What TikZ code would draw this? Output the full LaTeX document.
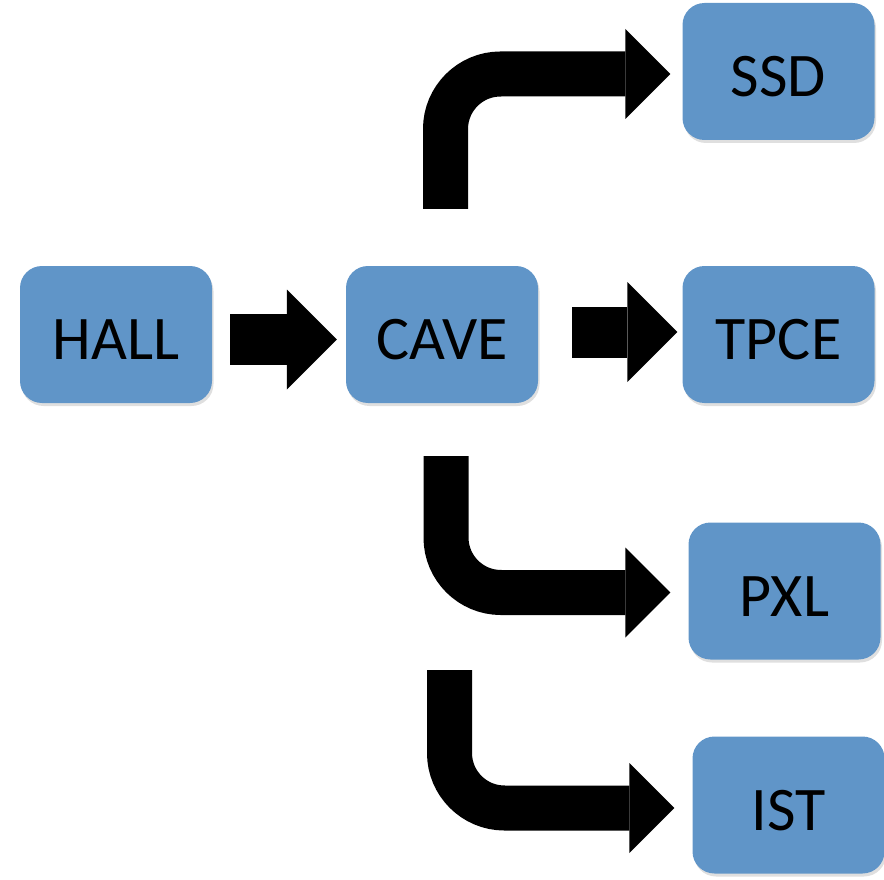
\documentclass[tikz,border=0pt]{standalone}
\usepackage{fontspec}
\setmainfont{Carlito}
\usetikzlibrary{arrows.meta,shadows}
\definecolor{cajaazul}{RGB}{96,149,200}
\tikzset{
  caja/.style={rectangle, rounded corners=22pt, fill=cajaazul,
    minimum width=192pt, minimum height=137pt, inner sep=0pt,
    text height=50pt, text depth=0pt,
    font=\fontsize{62}{62}\selectfont,
    drop shadow={shadow xshift=1.5pt, shadow yshift=-3pt, opacity=0.25}},
  flecharecta/.style={line width=51pt,
    -{Triangle[length=50pt,width=100pt,line width=0pt]}},
  flechacurva/.style={line width=45pt, rounded corners=55pt,
    -{Triangle[length=45pt,width=90pt,line width=0pt]}}
}
\begin{document}
\begin{tikzpicture}[x=1pt,y=-1pt]
  \useasboundingbox (0,0) rectangle (884,880);

  % Dibuja las cajas
  \node[caja] (hall) at (116,334.5) {HALL};
  \node[caja] (cave) at (442,334.5) {CAVE};
  \node[caja] (tpce) at (778.5,334.5) {TPCE};
  \node[caja] (ssd) at (778.5,71.5) {SSD};
  \node[caja] (pxl) at (784.5,591) {PXL};
  \node[caja] (ist) at (788.5,805) {IST};

  % Inicio de la flecha suelta
  \coordinate (inicioist) at (449.5,670);

  % Flechas rectas
  \draw[flecharecta] ([xshift=18pt,yshift=-5pt]hall.east) -- ([xshift=-9pt,yshift=-5pt]cave.west);
  \draw[flecharecta] ([xshift=34pt,yshift=2.5pt]cave.east) -- ([xshift=-5pt,yshift=2.5pt]tpce.west);

  % Flechas curvas
  \draw[flechacurva] ([xshift=3.5pt,yshift=57pt]cave.north) |- ([xshift=-12pt,yshift=-2.5pt]ssd.west);
  \draw[flechacurva] ([xshift=4pt,yshift=-53pt]cave.south) |- ([xshift=-18pt,yshift=-1.5pt]pxl.west);
  \draw[flechacurva] (inicioist) |- ([xshift=-18pt,yshift=-3pt]ist.west);
\end{tikzpicture}
\end{document}
